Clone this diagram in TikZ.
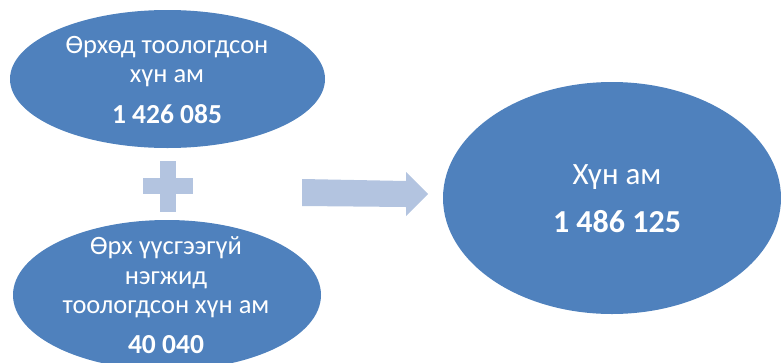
\documentclass[tikz,border=0pt]{standalone}
\usepackage{fontspec}
\setmainfont{Carlito}
\usetikzlibrary{shapes.geometric}
\definecolor{ovalBlue}{RGB}{79,129,189}
\definecolor{paleBlue}{RGB}{179,196,224}

\begin{document}
\begin{tikzpicture}[x=1pt,y=-1pt,
	oval/.style={ellipse, fill=ovalBlue, inner sep=0pt},
	txt/.style={anchor=base, text=white, inner sep=0pt, font=\fontsize{26.5}{30}\selectfont},
	num/.style={txt, font=\fontsize{27.5}{32}\selectfont\bfseries}]
\useasboundingbox (0,0) rectangle (781,362);

\node[oval, minimum width=315pt, minimum height=138pt](Urh) at (167.5,79) {};
\node[oval, minimum width=308pt, minimum height=150pt](Busad) at (167,295) {};
\node[oval, minimum width=338pt, minimum height=232pt](Niit) at (612,198) {};

\node[txt](Urh1) at (167,53) {Өрхөд тоологдсон};
\node[txt](Urh2) at (167,82) {хүн ам};
\node[num](UrhToo) at (167,123) {1 426 085};

\node[txt](Busad1) at (166,254) {Өрх үүсгээгүй};
\node[txt](Busad2) at (166,284) {нэгжид};
\node[txt](Busad3) at (166,313) {тоологдсон хүн ам};
\node[num](BusadToo) at (166,353) {40 040};

\node[txt, font=\fontsize{31}{36}\selectfont](Niit1) at (617,184) {Хүн ам};
\node[num, font=\fontsize{32}{37}\selectfont\bfseries](NiitToo) at (617,232) {1 486 125};

% nemeh temdeg
\fill[paleBlue] (160,161) rectangle (176,212);
\fill[paleBlue] (143,178) rectangle (193,194);
% sum
\fill[paleBlue] (302,179) -- (406,181) -- (406,172) -- (428,194) -- (406,216) -- (406,207) -- (302,206) -- cycle;
\end{tikzpicture}
\end{document}
